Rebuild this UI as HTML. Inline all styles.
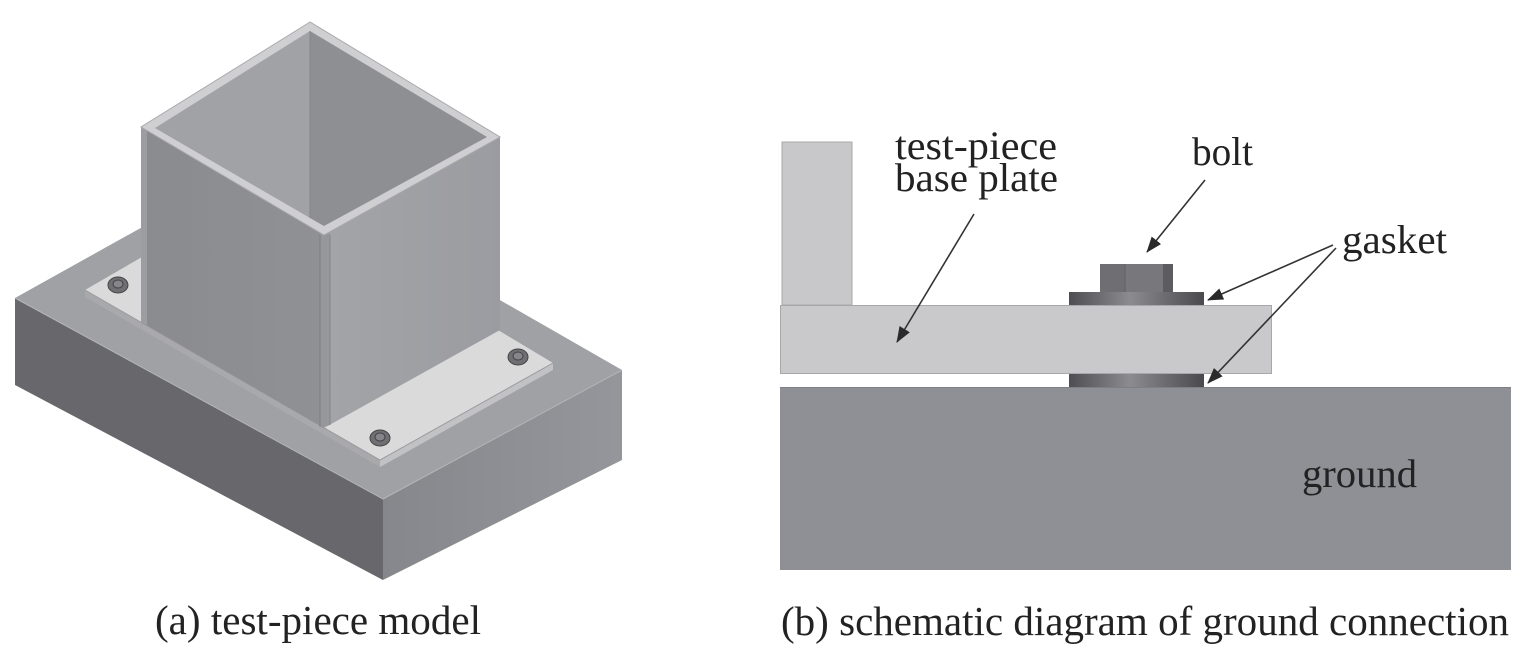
<!DOCTYPE html>
<html><head><meta charset="utf-8"><style>
html,body{margin:0;padding:0;background:#fff;}
svg{display:block;}
</style></head><body>
<svg width="1533" height="652" viewBox="0 0 1533 652" xmlns="http://www.w3.org/2000/svg">
<defs>
<linearGradient id="gk" x1="0" x2="1" y1="0" y2="0">
<stop offset="0" stop-color="#4e4e52"/><stop offset="0.45" stop-color="#8c8c90"/><stop offset="1" stop-color="#4a4a4e"/>
</linearGradient>
<linearGradient id="rf" x1="0" x2="1" y1="0" y2="0">
<stop offset="0" stop-color="#86878c"/><stop offset="1" stop-color="#95969b"/>
</linearGradient>
<linearGradient id="tl" x1="0" x2="1" y1="0" y2="0">
<stop offset="0" stop-color="#8a8b8f"/><stop offset="1" stop-color="#909195"/>
</linearGradient>
<linearGradient id="tr" x1="0" x2="1" y1="0" y2="0">
<stop offset="0" stop-color="#a3a4a8"/><stop offset="1" stop-color="#9b9ca1"/>
</linearGradient>
<marker id="ah" markerWidth="16" markerHeight="12" refX="15" refY="6" orient="auto" markerUnits="userSpaceOnUse">
<path d="M0,0 L16,6 L0,12 z" fill="#2a2a2a"/>
</marker>
</defs>

<!-- ===== LEFT: isometric model ===== -->
<polygon points="15,298 259,162 622,370 383,499" fill="#a0a1a5"/>
<polygon points="15,298 383,499 383,580 15,385" fill="#68686c"/>
<polygon points="383,499 622,370 622,460 383,580" fill="url(#rf)"/>
<polyline points="15,298 383,499 622,370" fill="none" stroke="#b4b5b8" stroke-width="1"/>
<!-- plate -->
<polygon points="85,290 261,188 553,363 380,460" fill="#dadadb"/>
<polygon points="85,290 380,460 380,467 85,297" fill="#a9a9ac"/>
<polygon points="380,460 553,363 553,370 380,467" fill="#c2c2c5"/>
<polyline points="85,290 380,460 553,363" fill="none" stroke="#9a9a9e" stroke-width="1"/>
<!-- bolts -->
<g stroke="#444" stroke-width="1">
<ellipse cx="118" cy="285" rx="10" ry="8" fill="#6f6f73"/>
<ellipse cx="118" cy="284" rx="5" ry="4" fill="#85858a"/>
<ellipse cx="518" cy="357" rx="10" ry="8" fill="#6f6f73"/>
<ellipse cx="518" cy="356" rx="5" ry="4" fill="#85858a"/>
<ellipse cx="380" cy="438" rx="10" ry="8" fill="#6f6f73"/>
<ellipse cx="380" cy="437" rx="5" ry="4" fill="#85858a"/>
</g>
<!-- tube faces -->
<polygon points="141,127 324,235 324,428 141,322" fill="url(#tl)"/>
<polygon points="324,235 500,137 500,330 324,428" fill="url(#tr)"/>
<polygon points="141,127 147,131 147,325 141,322" fill="#9c9da1"/>
<polygon points="320,233 330,233 330,425 320,427" fill="#96979b"/>
<line x1="320" y1="235" x2="320" y2="427" stroke="#7c7d81" stroke-width="1"/>
<line x1="330" y1="235" x2="330" y2="425" stroke="#84858a" stroke-width="1"/>
<!-- tube top -->
<polygon points="310,22 141,127 324,235 500,137" fill="#cfcfd1" stroke="#a9a9ad" stroke-width="1"/>
<polygon points="310,31 487,137 324,226 310,218" fill="#8e8f93"/>
<polygon points="155,128 310,31 310,218" fill="#a1a2a6"/>
<line x1="310" y1="31" x2="310" y2="218" stroke="#85868a" stroke-width="1"/>

<!-- ===== RIGHT: schematic ===== -->
<rect x="782" y="142" width="70" height="163" fill="#c8c8ca" stroke="#a8a8ab" stroke-width="1"/>
<rect x="780.5" y="305.5" width="491" height="68" fill="#c9c9cb" stroke="#a8a8ab" stroke-width="1"/>
<rect x="780" y="387" width="731" height="183" fill="#8f9095"/>
<line x1="780" y1="387.5" x2="1511" y2="387.5" stroke="#7e7f84" stroke-width="1"/>
<rect x="1100" y="264" width="25" height="28" fill="#6f6f73"/>
<rect x="1125" y="264" width="38" height="28" fill="#78787c"/>
<rect x="1163" y="264" width="10" height="28" fill="#5c5c60"/>
<line x1="1125" y1="264" x2="1125" y2="292" stroke="#606064" stroke-width="1"/>
<rect x="1069" y="292" width="135" height="13" fill="url(#gk)"/>
<rect x="1069" y="374" width="135" height="13" fill="url(#gk)"/>

<g stroke="#333" stroke-width="1.6" fill="none" marker-end="url(#ah)">
<line x1="974" y1="214" x2="897" y2="342"/>
<line x1="1205" y1="180" x2="1147" y2="252"/>
<line x1="1333" y1="245" x2="1208" y2="300"/>
<line x1="1336" y1="248" x2="1208" y2="383"/>
</g>

<g font-family="Liberation Serif, DejaVu Serif, Noto Serif CJK SC, serif" fill="#222">
<text x="895" y="159" font-size="40" textLength="162" lengthAdjust="spacingAndGlyphs">test-piece</text>
<text x="895" y="191" font-size="40" textLength="163" lengthAdjust="spacingAndGlyphs">base plate</text>
<text x="1192" y="165" font-size="40" textLength="61" lengthAdjust="spacingAndGlyphs">bolt</text>
<text x="1342" y="253" font-size="40" textLength="105" lengthAdjust="spacingAndGlyphs">gasket</text>
<text x="1302" y="487" font-size="40" textLength="115" lengthAdjust="spacingAndGlyphs">ground</text>
<text x="155" y="634" font-size="41" textLength="326" lengthAdjust="spacingAndGlyphs">(a) test-piece model</text>
<text x="781" y="635" font-size="41" textLength="728" lengthAdjust="spacingAndGlyphs">(b) schematic diagram of ground connection</text>
</g>
</svg>
</body></html>
